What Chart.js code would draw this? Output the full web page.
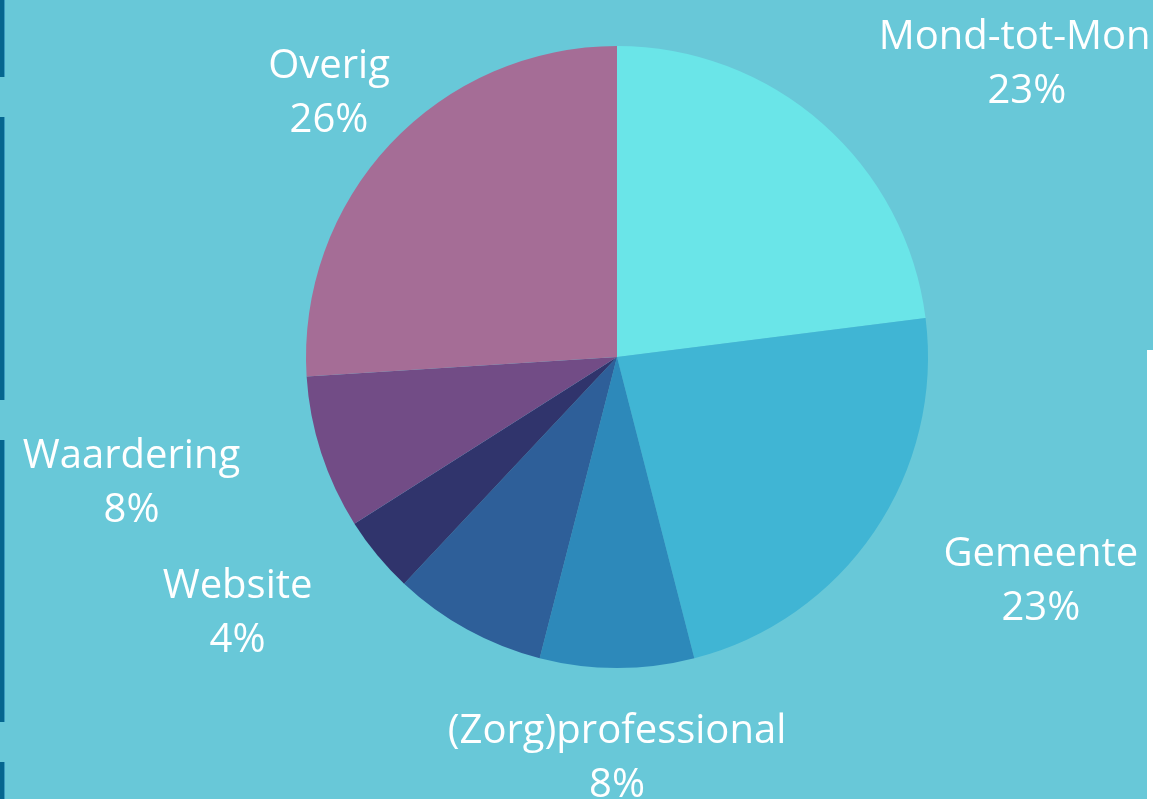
<!DOCTYPE html>
<html>
<head>
<meta charset="utf-8">
<script src="https://cdn.jsdelivr.net/npm/chart.js@4.4.1/dist/chart.umd.min.js"></script>
<style>
  html, body { margin: 0; padding: 0; background: #68C8D8; overflow: hidden; }
  #wrap { position: relative; width: 1153px; height: 799px; background: #68C8D8; }
  canvas { position: absolute; left: 0; top: 0; }
  .bar { position: absolute; left: 0; width: 4px; background: #05668F; border-right: 1px solid #3A9CC0; }
  #strip { position: absolute; left: 1147px; top: 350px; width: 6px; height: 449px; background: #FFFFFF; }
</style>
</head>
<body>
<div id="wrap">
  <div class="bar" style="top:0;height:77px"></div>
  <div class="bar" style="top:117px;height:283px"></div>
  <div class="bar" style="top:440px;height:282px"></div>
  <div class="bar" style="top:762px;height:37px"></div>
  <div id="strip"></div>
  <canvas id="c" width="1153" height="799"></canvas>
</div>
<script>
// Data
const categories = ["Mond-tot-Mond", "Gemeente", "(Zorg)professional", "", "Website", "Waardering", "Overig"];
const percentages = [23, 23, 8, 8, 4, 8, 26];
const sliceColors = ["#6AE5E8", "#40B5D4", "#2D89BA", "#2E5F99", "#30346C", "#724C86", "#A56D96"];
const showLabel = [true, true, true, false, true, true, true];

// Layout of labels relative to pie centre, in units of the pie radius
const labelOffsets = [
  [1.318, -0.953],
  [1.363, 0.712],
  [0.0, 1.281],
  [0, 0],
  [-1.220, 0.812],
  [-1.561, 0.394],
  [-0.926, -0.860]
];

const labelPlugin = {
  id: 'outerLabels',
  afterDatasetsDraw(chart) {
    const ctx = chart.ctx;
    const meta = chart.getDatasetMeta(0);
    ctx.save();
    ctx.fillStyle = '#FFFFFF';
    ctx.font = '40px "Open Sans"';
    ctx.textAlign = 'center';
    ctx.textBaseline = 'alphabetic';
    meta.data.forEach((arc, i) => {
      if (!showLabel[i]) return;
      const R = arc.outerRadius;
      const cx = arc.x + labelOffsets[i][0] * R;
      const cy = arc.y + labelOffsets[i][1] * R;
      ctx.fillText(categories[i], cx, cy - 12);
      ctx.fillText(percentages[i] + '%', cx, cy + 42);
    });
    ctx.restore();
  }
};

new Chart(document.getElementById('c'), {
  type: 'pie',
  data: {
    labels: categories,
    datasets: [{
      data: percentages,
      backgroundColor: sliceColors,
      borderWidth: 0,
      hoverOffset: 0
    }]
  },
  options: {
    responsive: false,
    animation: false,
    layout: { padding: { top: 46, bottom: 131, left: 81, right: 0 } },
    plugins: {
      legend: { display: false },
      tooltip: { enabled: false }
    }
  },
  plugins: [labelPlugin]
});
</script>
</body>
</html>
